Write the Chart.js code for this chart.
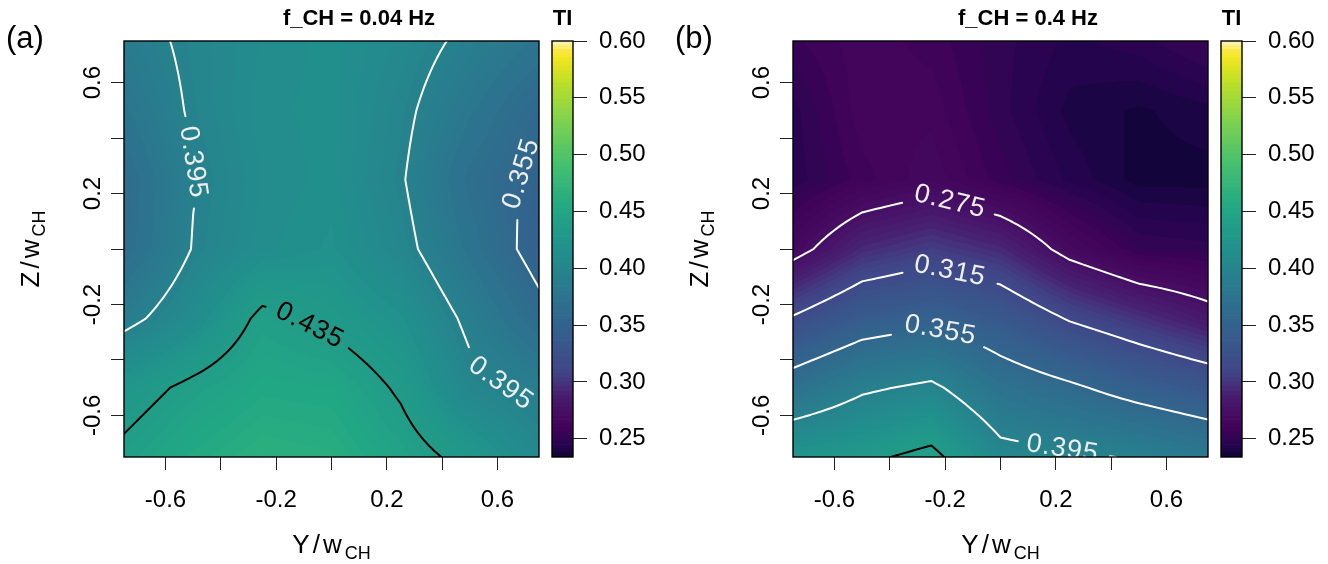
<!DOCTYPE html>
<html>
<head>
<meta charset="utf-8">
<script src="https://cdn.jsdelivr.net/npm/chart.js@4.4.1/dist/chart.umd.min.js"></script>
<style>
  body { margin: 0; background: #fff; }
  #wrap { position: relative; width: 1328px; height: 564px; overflow: hidden; }
  canvas { position: absolute; top: 0; }
</style>
</head>
<body>
<div id="wrap">
  <canvas id="plotA" width="545" height="564" style="left:0px"></canvas>
  <canvas id="keyA" width="120" height="564" style="left:540px"></canvas>
  <canvas id="plotB" width="545" height="564" style="left:669px"></canvas>
  <canvas id="keyB" width="120" height="564" style="left:1209px"></canvas>
</div>
<script>
// grid positions (Y/w_CH across, Z/w_CH rows from top to bottom)
const gridY = [-0.75, -0.5, -0.25, 0, 0.25, 0.5, 0.75];
const gridZ = [0.75, 0.5, 0.25, 0, -0.25, -0.5, -0.75];

// TI at f_CH = 0.04 Hz, one row per gridZ
const tiLow = [
  [0.385, 0.400, 0.410, 0.415, 0.405, 0.390, 0.375],
  [0.375, 0.398, 0.412, 0.415, 0.400, 0.378, 0.357],
  [0.362, 0.394, 0.410, 0.415, 0.397, 0.367, 0.350],
  [0.364, 0.396, 0.412, 0.418, 0.402, 0.374, 0.346],
  [0.388, 0.410, 0.440, 0.430, 0.418, 0.390, 0.362],
  [0.425, 0.440, 0.452, 0.450, 0.432, 0.401, 0.390],
  [0.440, 0.455, 0.465, 0.462, 0.445, 0.428, 0.405]
];

// TI at f_CH = 0.4 Hz
const tiHigh = [
  [0.255, 0.262, 0.258, 0.250, 0.244, 0.247, 0.254],
  [0.247, 0.262, 0.262, 0.250, 0.240, 0.237, 0.240],
  [0.246, 0.258, 0.266, 0.254, 0.244, 0.236, 0.236],
  [0.267, 0.294, 0.304, 0.294, 0.268, 0.252, 0.250],
  [0.317, 0.339, 0.348, 0.335, 0.313, 0.298, 0.283],
  [0.370, 0.391, 0.400, 0.372, 0.359, 0.344, 0.332],
  [0.424, 0.430, 0.442, 0.404, 0.399, 0.393, 0.382]
];

const contourLevels = [0.275, 0.315, 0.355, 0.395, 0.435];
const axisTicks = [-0.6, -0.4, -0.2, 0, 0.2, 0.4, 0.6];
const axisLabelTicks = [-0.6, -0.2, 0.2, 0.6];
const keyTicks = [0.25, 0.30, 0.35, 0.40, 0.45, 0.50, 0.55, 0.60];
const keyRange = [0.234, 0.6];

// where the contour labels sit (data units)
const labelsLow = [
  { level: 0.395, y: -0.51, z: 0.31 },
  { level: 0.355, y: 0.69, z: 0.27 },
  { level: 0.435, y: -0.08, z: -0.28 },
  { level: 0.395, y: 0.615, z: -0.48 }
];
const labelsHigh = [
  { level: 0.275, y: -0.19, z: 0.144 },
  { level: 0.315, y: -0.19, z: -0.108 },
  { level: 0.355, y: -0.225, z: -0.319 },
  { level: 0.395, y: 0.226, z: -0.711 }
];

const FONT = '"Liberation Sans", Arial, Helvetica, sans-serif';
const LABEL_FONT = 'normal normal 400 27px "Liberation Sans", Arial, sans-serif';
Chart.defaults.font.family = FONT;
Chart.defaults.color = '#000';

// viridis-like ramp
const paletteStops = [
  [0.00, 15, 5, 55],
  [0.03, 40, 4, 80],
  [0.07, 66, 3, 90],
  [0.11, 70, 14, 100],
  [0.15, 72, 30, 112],
  [0.20, 65, 68, 135],
  [0.30, 53, 95, 141],
  [0.40, 42, 120, 142],
  [0.50, 33, 145, 140],
  [0.60, 34, 168, 132],
  [0.70, 68, 191, 112],
  [0.80, 122, 209, 81],
  [0.90, 189, 223, 38],
  [0.955, 240, 229, 33],
  [0.975, 252, 232, 60],
  [1.00, 248, 244, 200]
];
function palette(t) {
  for (let k = 1; k < paletteStops.length; k++) {
    const [t1, ...c1] = paletteStops[k];
    if (t <= t1) {
      const [t0, ...c0] = paletteStops[k - 1];
      const f = (t - t0) / (t1 - t0);
      return c0.map((c, m) => Math.round(c + (c1[m] - c) * f));
    }
  }
  return paletteStops[paletteStops.length - 1].slice(1);
}

const nBands = 100;
const bandStep = (keyRange[1] - keyRange[0]) / nBands;
const bandRgb = Array.from({ length: nBands }, (_, k) => palette((k + 0.5) / nBands));
const bandCss = bandRgb.map(c => `rgb(${c[0]},${c[1]},${c[2]})`);
function bandIndex(v) {
  return Math.max(0, Math.min(nBands - 1, Math.floor((v - keyRange[0]) / bandStep)));
}

function sample(grid, yv, zv) {
  const n = gridY.length;
  let fx = (yv - gridY[0]) / (gridY[1] - gridY[0]);
  let fz = (gridZ[0] - zv) / (gridZ[0] - gridZ[1]);
  fx = Math.max(0, Math.min(n - 1, fx));
  fz = Math.max(0, Math.min(n - 1, fz));
  const i = Math.min(Math.floor(fx), n - 2), j = Math.min(Math.floor(fz), n - 2);
  const u = fx - i, v = fz - j;
  return grid[j][i] * (1 - u) * (1 - v) + grid[j][i + 1] * u * (1 - v) +
         grid[j + 1][i] * (1 - u) * v + grid[j + 1][i + 1] * u * v;
}

// marching squares on a refined copy of the grid
function contourSegments(grid, level, refine) {
  const n = (gridY.length - 1) * refine + 1;
  const ys = [], zs = [];
  for (let i = 0; i < n; i++) {
    ys.push(gridY[0] + (gridY[gridY.length - 1] - gridY[0]) * i / (n - 1));
    zs.push(gridZ[0] + (gridZ[gridZ.length - 1] - gridZ[0]) * i / (n - 1));
  }
  const vals = zs.map(z => ys.map(yv => sample(grid, yv, z)));
  const segs = [];
  for (let j = 0; j < n - 1; j++) {
    for (let i = 0; i < n - 1; i++) {
      const a = vals[j][i], b = vals[j][i + 1], c = vals[j + 1][i + 1], d = vals[j + 1][i];
      const P = [[ys[i], zs[j]], [ys[i + 1], zs[j]], [ys[i + 1], zs[j + 1]], [ys[i], zs[j + 1]]];
      const pts = [];
      const cross = (v0, v1, p0, p1) => {
        if ((v0 < level) !== (v1 < level)) {
          const f = (level - v0) / (v1 - v0);
          pts.push([p0[0] + (p1[0] - p0[0]) * f, p0[1] + (p1[1] - p0[1]) * f]);
        } else pts.push(null);
      };
      cross(a, b, P[0], P[1]);
      cross(b, c, P[1], P[2]);
      cross(c, d, P[2], P[3]);
      cross(d, a, P[3], P[0]);
      const hit = pts.filter(p => p);
      if (hit.length === 2) segs.push(hit);
      else if (hit.length === 4) {
        const centerUp = (a + b + c + d) / 4 >= level, tlUp = a >= level;
        if (centerUp === tlUp) segs.push([pts[0], pts[1]], [pts[2], pts[3]]);
        else segs.push([pts[3], pts[0]], [pts[1], pts[2]]);
      }
    }
  }
  return segs;
}

function placeLabel(segs, px, py, tw) {
  let best = null, bd = Infinity;
  segs.forEach(([p, q]) => {
    const dx = q[0] - p[0], dy = q[1] - p[1];
    const len2 = dx * dx + dy * dy || 1;
    let f = ((px - p[0]) * dx + (py - p[1]) * dy) / len2;
    f = Math.max(0, Math.min(1, f));
    const cx = p[0] + dx * f, cy = p[1] + dy * f;
    const d = (cx - px) ** 2 + (cy - py) ** 2;
    if (d < bd) { bd = d; best = [cx, cy]; }
  });
  const near = [];
  segs.forEach(s => s.forEach(r => {
    if (Math.hypot(r[0] - best[0], r[1] - best[1]) < 32) near.push(r);
  }));
  const mx = near.reduce((s, r) => s + r[0], 0) / near.length;
  const my = near.reduce((s, r) => s + r[1], 0) / near.length;
  let sxx = 0, syy = 0, sxy = 0;
  near.forEach(r => { sxx += (r[0] - mx) ** 2; syy += (r[1] - my) ** 2; sxy += (r[0] - mx) * (r[1] - my); });
  const angle = 0.5 * Math.atan2(2 * sxy, sxx - syy);
  return { cx: best[0], cy: best[1], angle, hw: tw / 2 + 12, hh: 14 };
}

function inBox(L, x, y) {
  const dx = x - L.cx, dy = y - L.cy;
  const u = dx * Math.cos(L.angle) + dy * Math.sin(L.angle);
  const v = -dx * Math.sin(L.angle) + dy * Math.cos(L.angle);
  return Math.abs(u) < L.hw && Math.abs(v) < L.hh;
}

function subscriptText(ctx, main, sub, x, y, rotate) {
  ctx.save();
  ctx.translate(x, y);
  if (rotate) ctx.rotate(-Math.PI / 2);
  ctx.fillStyle = '#000';
  ctx.textBaseline = 'alphabetic';
  ctx.textAlign = 'left';
  ctx.font = '26px ' + FONT;
  ctx.letterSpacing = '3px';
  const w1 = ctx.measureText(main).width;
  ctx.letterSpacing = '0px';
  ctx.font = '18px ' + FONT;
  const w2 = ctx.measureText(sub).width;
  const x0 = -(w1 + w2) / 2;
  ctx.font = '26px ' + FONT;
  ctx.letterSpacing = '3px';
  ctx.fillText(main, x0, 0);
  ctx.letterSpacing = '0px';
  ctx.font = '18px ' + FONT;
  ctx.fillText(sub, x0 + w1, 6);
  ctx.restore();
}

function fieldPlugin(grid, title, tag, spots) {
  return {
    id: 'field',
    beforeDatasetsDraw(chart) {
      const { ctx, chartArea: a, scales: { x, y } } = chart;
      const l = Math.round(a.left), t = Math.round(a.top);
      const w = Math.round(a.right) - l, h = Math.round(a.bottom) - t;
      const img = ctx.createImageData(w, h);
      for (let j = 0; j < h; j++) {
        const zv = y.getValueForPixel(t + j + 0.5);
        for (let i = 0; i < w; i++) {
          const c = bandRgb[bandIndex(sample(grid, x.getValueForPixel(l + i + 0.5), zv))];
          const k = (j * w + i) * 4;
          img.data[k] = c[0]; img.data[k + 1] = c[1]; img.data[k + 2] = c[2]; img.data[k + 3] = 255;
        }
      }
      ctx.putImageData(img, l, t);

      ctx.save();
      ctx.beginPath();
      ctx.rect(a.left, a.top, a.right - a.left, a.bottom - a.top);
      ctx.clip();
      ctx.font = LABEL_FONT;
      ctx.letterSpacing = '1px';
      contourLevels.forEach(level => {
        const segs = contourSegments(grid, level, 12)
          .map(s => s.map(p => [x.getPixelForValue(p[0]), y.getPixelForValue(p[1])]));
        if (!segs.length) return;
        const text = String(level);
        const tw = ctx.measureText(text).width;
        const labels = spots.filter(s => s.level === level)
          .map(s => placeLabel(segs, x.getPixelForValue(s.y), y.getPixelForValue(s.z), tw));
        const dark = level >= 0.42;
        ctx.strokeStyle = dark ? '#000' : '#fff';
        ctx.lineWidth = 2;
        ctx.lineCap = 'round';
        ctx.beginPath();
        segs.forEach(([p, q]) => {
          if (labels.some(L => inBox(L, (p[0] + q[0]) / 2, (p[1] + q[1]) / 2))) return;
          ctx.moveTo(p[0], p[1]);
          ctx.lineTo(q[0], q[1]);
        });
        ctx.stroke();
        labels.forEach(L => {
          ctx.save();
          ctx.translate(L.cx, L.cy);
          ctx.rotate(L.angle);
          ctx.fillStyle = dark ? '#000' : '#eeeeee';
          ctx.textAlign = 'center';
          ctx.textBaseline = 'middle';
          ctx.fillText(text, 0, 0);
          ctx.restore();
        });
      });
      ctx.restore();
    },
    afterDraw(chart) {
      const { ctx, chartArea: a, scales: { y } } = chart;
      ctx.save();
      ctx.strokeStyle = '#000';
      ctx.lineWidth = 1.4;
      ctx.strokeRect(a.left, a.top, a.right - a.left, a.bottom - a.top);

      ctx.fillStyle = '#000';
      ctx.font = 'bold 22px ' + FONT;
      ctx.textAlign = 'center';
      ctx.textBaseline = 'alphabetic';
      ctx.fillText(title, a.left + 235, 25);

      ctx.font = '24px ' + FONT;
      axisLabelTicks.forEach(v => {
        ctx.save();
        ctx.translate(a.left - 24, y.getPixelForValue(v));
        ctx.rotate(-Math.PI / 2);
        ctx.textAlign = 'center';
        ctx.fillText(String(v), 0, 0);
        ctx.restore();
      });

      ctx.font = '31px ' + FONT;
      ctx.textAlign = 'left';
      ctx.fillText(tag, 6, 48);
      ctx.restore();

      subscriptText(ctx, 'Y/w', 'CH', (a.left + a.right) / 2, 553, false);
      subscriptText(ctx, 'Z/w', 'CH', a.left - 85, (a.top + a.bottom) / 2, true);
    }
  };
}

function makePlot(id, grid, title, tag, spots) {
  return new Chart(document.getElementById(id), {
    type: 'scatter',
    data: { datasets: [] },
    options: {
      responsive: false,
      animation: false,
      events: [],
      layout: { padding: { top: 41, right: 6, left: 0, bottom: 0 } },
      plugins: { legend: { display: false }, tooltip: { enabled: false } },
      scales: {
        x: {
          type: 'linear', min: -0.75, max: 0.75, position: 'bottom',
          afterBuildTicks: s => { s.ticks = axisTicks.map(v => ({ value: v })); },
          afterFit: s => { s.height = 107; },
          border: { display: false },
          grid: { drawOnChartArea: false, drawTicks: true, tickLength: 13, color: '#222', lineWidth: 1 },
          ticks: {
            autoSkip: false, maxRotation: 0, minRotation: 0, padding: 16,
            font: { size: 24 }, color: '#000',
            callback: v => axisLabelTicks.includes(v) ? String(v) : ''
          }
        },
        y: {
          type: 'linear', min: -0.75, max: 0.75, position: 'left',
          afterBuildTicks: s => { s.ticks = axisTicks.map(v => ({ value: v })); },
          afterFit: s => { s.width = 124; },
          border: { display: false },
          grid: { drawOnChartArea: false, drawTicks: true, tickLength: 13, color: '#222', lineWidth: 1 },
          ticks: { display: false }
        }
      }
    },
    plugins: [fieldPlugin(grid, title, tag, spots)]
  });
}

function keyPlugin() {
  return {
    id: 'keyBox',
    afterDraw(chart) {
      const { ctx, chartArea: a } = chart;
      ctx.save();
      ctx.strokeStyle = '#000';
      ctx.lineWidth = 1.4;
      ctx.strokeRect(a.left, a.top, a.right - a.left, a.bottom - a.top);
      ctx.fillStyle = '#000';
      ctx.font = 'bold 22px ' + FONT;
      ctx.textAlign = 'center';
      ctx.fillText('TI', (a.left + a.right) / 2, 25);
      ctx.restore();
    }
  };
}

function makeKey(id) {
  return new Chart(document.getElementById(id), {
    type: 'bar',
    data: {
      labels: ['TI'],
      datasets: bandCss.map((col, k) => ({
        data: [[keyRange[0] + k * bandStep, keyRange[0] + (k + 1) * bandStep]],
        backgroundColor: col,
        borderWidth: 0,
        grouped: false,
        barPercentage: 1,
        categoryPercentage: 1
      }))
    },
    options: {
      responsive: false,
      animation: false,
      events: [],
      layout: { padding: { top: 41, left: 12, right: 0, bottom: 107 } },
      plugins: { legend: { display: false }, tooltip: { enabled: false } },
      scales: {
        x: { display: false },
        y: {
          type: 'linear', min: keyRange[0], max: keyRange[1], position: 'right',
          afterBuildTicks: s => { s.ticks = keyTicks.map(v => ({ value: v })); },
          afterFit: s => { s.width = 87; },
          border: { display: false },
          grid: { drawOnChartArea: false, drawTicks: true, tickLength: 14, color: '#222', lineWidth: 1 },
          ticks: { padding: 12, font: { size: 24 }, color: '#000', callback: v => v.toFixed(2) }
        }
      }
    },
    plugins: [keyPlugin()]
  });
}

makePlot('plotA', tiLow, 'f_CH = 0.04 Hz', '(a)', labelsLow);
makeKey('keyA');
makePlot('plotB', tiHigh, 'f_CH = 0.4 Hz', '(b)', labelsHigh);
makeKey('keyB');
</script>
</body>
</html>
